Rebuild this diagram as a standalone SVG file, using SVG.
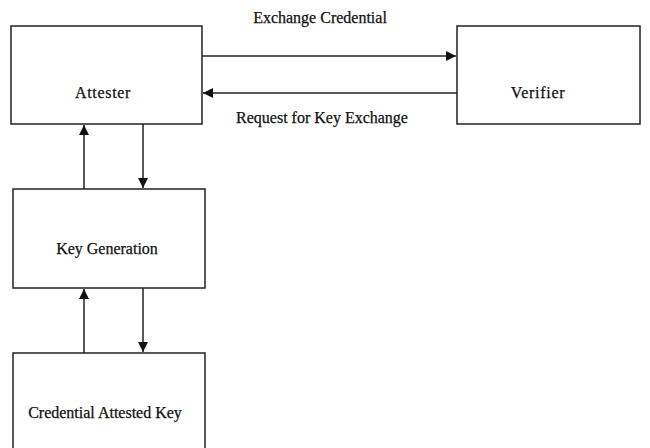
<svg xmlns="http://www.w3.org/2000/svg" width="650" height="448" viewBox="0 0 650 448">
<style>
.box{fill:#fff;stroke:#222;stroke-width:1.5}
.lbl{font-family:"Liberation Serif","Times New Roman",serif;font-size:16px;fill:#111;stroke:#111;stroke-width:0.25;text-anchor:middle}
.sp{letter-spacing:0.7px}
.con{stroke:#222;stroke-width:1.5;fill:none;marker-end:url(#ah)}
</style>
<defs>
<marker id="ah" viewBox="0 0 10 10" refX="10" refY="5" markerWidth="11" markerHeight="10" markerUnits="userSpaceOnUse" orient="auto">
<path d="M0,0L10,5L0,10z" fill="#111"/>
</marker>
</defs>
<rect width="650" height="448" fill="#fff"/>
<g id="attester"><rect class="box" x="11" y="26" width="191" height="98"/><text class="lbl sp" x="103" y="98">Attester</text></g>
<g id="verifier"><rect class="box" x="457" y="26" width="183" height="98"/><text class="lbl sp" x="538" y="98">Verifier</text></g>
<g id="keygen"><rect class="box" x="13" y="189" width="192" height="99"/><text class="lbl" x="107" y="254">Key Generation</text></g>
<g id="cak"><rect class="box" x="13" y="353" width="192" height="110"/><text class="lbl" x="105" y="418">Credential Attested Key</text></g>
<g id="connectors">
<line class="con" x1="202" y1="56" x2="456" y2="56"/>
<line class="con" x1="457" y1="93" x2="203" y2="93"/>
<line class="con" x1="84" y1="189" x2="84" y2="125"/>
<line class="con" x1="143" y1="124" x2="143" y2="188"/>
<line class="con" x1="84" y1="353" x2="84" y2="289"/>
<line class="con" x1="143" y1="288" x2="143" y2="352"/>
<text class="lbl" x="320" y="23">Exchange Credential</text>
<text class="lbl" x="322" y="123">Request for Key Exchange</text>
</g>
</svg>
